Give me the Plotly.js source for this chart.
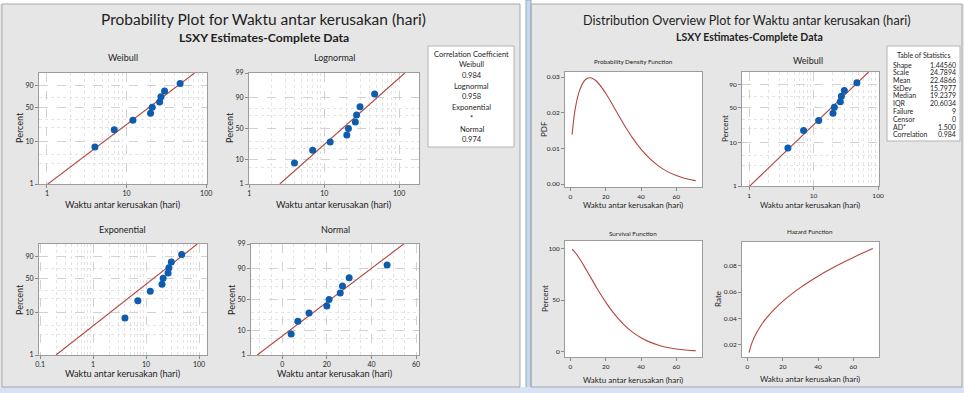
<!DOCTYPE html>
<html>
<head>
<meta charset="utf-8">
<script src="https://cdn.plot.ly/plotly-3.0.1.min.js"></script>
<style>
  html, body { margin: 0; padding: 0; background: #ffffff; }
  #chart { width: 964px; height: 393px; }
</style>
</head>
<body>
<div id="chart"></div>
<script>
// ---- data -------------------------------------------------------------
// Failure times (days) and their median-rank plotting positions (%)
const failureTimes = [4, 7, 12, 20, 21, 26, 27, 30, 47];
const plotPercent = [7.45, 18.09, 28.72, 39.36, 50, 60.64, 71.28, 81.91, 92.55];

// LSXY fitted lines, each given by two end points (time, percent)
const weibullFitX = [1, 71.3];
const weibullFitP = [0.963, 99];
const lognormalFitX = [2.55, 119];
const lognormalFitP = [1, 99];
const exponentialFitX = [0.2, 92.5];
const exponentialFitP = [1, 99];
const normalFitX = [-11.2, 54.4];
const normalFitP = [1, 99];

// Correlation coefficients per distribution
const corrNames = ['Weibull', 'Lognormal', 'Exponential', 'Normal'];
const corrValues = ['0.984', '0.958', '*', '0.974'];

// Weibull table of statistics
const statNames = ['Shape', 'Scale', 'Mean', 'StDev', 'Median', 'IQR', 'Failure', 'Censor', 'AD*', 'Correlation'];
const statValues = ['1.44560', '24.7894', '22.4866', '15.7977', '19.2379', '20.6034', '9', '0', '1.500', '0.984'];

// Distribution overview curves (Weibull fit)
const curveX = [1, 2, 3, 5, 8, 10, 12, 15, 20, 25, 30, 35, 40, 45, 50, 55, 60, 65, 70, 71];
const pdfValues = [0.01382, 0.01850, 0.02171, 0.02589, 0.02899, 0.02973, 0.02973, 0.02874, 0.02546, 0.02127,
                   0.01700, 0.01311, 0.00980, 0.00713, 0.00506, 0.00351, 0.00239, 0.00159, 0.00105, 0.00096];
const survivalPercent = [99.04, 97.41, 95.39, 90.59, 82.28, 76.40, 70.44, 61.65, 48.04, 36.34,
                         26.78, 19.28, 13.57, 9.37, 6.35, 4.22, 2.76, 1.78, 1.13, 1.03];
const hazardRate = [0.01395, 0.01899, 0.02276, 0.02857, 0.03523, 0.03891, 0.04221, 0.04662, 0.05300, 0.05854,
                    0.06349, 0.06800, 0.07218, 0.07606, 0.07972, 0.08318, 0.08647, 0.08961, 0.09261, 0.09320];

// Axis tick labels
const weibullTickPct = [1, 10, 50, 90];
const normalTickPct = [1, 10, 50, 90, 99];
const weibullMinorPct = [3, 5, 20, 30, 70];
const normalMinorPct = [5, 20, 30, 70, 80];
const decadeTicks = [1, 10, 100];
const expDecadeTicks = [0.1, 1, 10, 100];
const decadeMinor = [2, 3, 4, 5, 6, 7, 8, 9, 20, 30, 40, 50, 60, 70, 80, 90];
const expDecadeMinor = [0.2, 0.3, 0.4, 0.5, 0.6, 0.7, 0.8, 0.9, 2, 3, 4, 5, 6, 7, 8, 9, 20, 30, 40, 50, 60, 70, 80, 90];

// ---- probability scales ------------------------------------------------
const weibullScale = p => Math.log(-Math.log(1 - p / 100));
function probit(p) {
  const a = [-3.969683028665376e+01, 2.209460984245205e+02, -2.759285104469687e+02, 1.383577518672690e+02, -3.066479806614716e+01, 2.506628277459239e+00];
  const b = [-5.447609879822406e+01, 1.615858368580409e+02, -1.556989798598866e+02, 6.680131188771972e+01, -1.328068155288572e+01];
  const c = [-7.784894002430293e-03, -3.223964580411365e-01, -2.400758277161838e+00, -2.549732539343734e+00, 4.374664141464968e+00, 2.938163982698783e+00];
  const d = [7.784695709041462e-03, 3.224671290700398e-01, 2.445134137142996e+00, 3.754408661907416e+00];
  const pl = 0.02425;
  let q, r;
  if (p < pl) {
    q = Math.sqrt(-2 * Math.log(p));
    return (((((c[0]*q+c[1])*q+c[2])*q+c[3])*q+c[4])*q+c[5]) / ((((d[0]*q+d[1])*q+d[2])*q+d[3])*q+1);
  }
  if (p > 1 - pl) {
    q = Math.sqrt(-2 * Math.log(1 - p));
    return -(((((c[0]*q+c[1])*q+c[2])*q+c[3])*q+c[4])*q+c[5]) / ((((d[0]*q+d[1])*q+d[2])*q+d[3])*q+1);
  }
  q = p - 0.5; r = q * q;
  return (((((a[0]*r+a[1])*r+a[2])*r+a[3])*r+a[4])*r+a[5])*q / (((((b[0]*r+b[1])*r+b[2])*r+b[3])*r+b[4])*r+1);
}
const normalScale = p => probit(p / 100);

// ---- geometry helpers --------------------------------------------------
const PW = 964, PH = 393;
const fx = px => px / PW;
const fy = py => 1 - py / PH;
const FONT = 'Lato, "DejaVu Sans", sans-serif';
const INK = '#1e1e1e';
const FIT = '#b4453f';
const DOT = '#0d5cb0';

// plot boxes: [left, top, right, bottom] in pixels
const boxes = {
  1: [39, 73, 207, 184],   // Weibull
  2: [249, 73, 419, 184],  // Lognormal
  3: [39, 244, 207, 355],  // Exponential
  4: [251, 244, 419, 355], // Normal
  5: [565, 72, 702, 187],  // PDF
  6: [742, 72, 879, 186],  // Weibull (overview)
  7: [565, 241, 702, 357], // Survival
  8: [742, 242, 879, 357]  // Hazard
};

function baseAxis(id, isX, tickSize) {
  const b = boxes[id];
  return {
    domain: isX ? [fx(b[0]), fx(b[2])] : [fy(b[3]), fy(b[1])],
    anchor: (isX ? 'y' : 'x') + (id === 1 ? '' : id),
    showline: true, mirror: true, linecolor: '#9c9c9c', linewidth: 1,
    ticks: 'outside', ticklen: 3, tickcolor: '#8a8a8a', tickwidth: 1,
    tickfont: { family: FONT, size: tickSize, color: INK },
    zeroline: false, showgrid: false, fixedrange: true, automargin: false
  };
}
const majorGrid = { showgrid: true, gridcolor: '#d2d2d2', griddash: 'dash', gridwidth: 1 };
function minorGrid(vals) {
  return { tickmode: 'array', tickvals: vals, showgrid: true, gridcolor: '#e4e4e4', griddash: 'dot', gridwidth: 1, ticks: '' };
}

function logX(id, range, ticks, minor, size) {
  return Object.assign(baseAxis(id, true, size), majorGrid, {
    type: 'log', range: range, tickmode: 'array', tickvals: ticks, ticktext: ticks.map(String),
    minor: minorGrid(minor)
  });
}
function probY(id, scale, ticks, minor, size) {
  return Object.assign(baseAxis(id, false, size), majorGrid, {
    range: [scale(1), scale(99)], tickmode: 'array',
    tickvals: ticks.map(scale), ticktext: ticks.map(String),
    minor: minorGrid(minor.map(scale))
  });
}

// ---- traces -------------------------------------------------------------
function fitLine(id, xs, ys) {
  const s = id === 1 ? '' : String(id);
  return { type: 'scatter', mode: 'lines', x: xs, y: ys, xaxis: 'x' + s, yaxis: 'y' + s,
           line: { color: FIT, width: 1.1 }, hoverinfo: 'skip' };
}
function points(id, xs, ys) {
  const s = id === 1 ? '' : String(id);
  return { type: 'scatter', mode: 'markers', x: xs, y: ys, xaxis: 'x' + s, yaxis: 'y' + s,
           marker: { color: DOT, size: 7 }, cliponaxis: true };
}
function curve(id, xs, ys) {
  const s = String(id);
  return { type: 'scatter', mode: 'lines', x: xs, y: ys, xaxis: 'x' + s, yaxis: 'y' + s,
           line: { color: FIT, width: 1.1, shape: 'spline', smoothing: 0.8 } };
}

const traces = [
  fitLine(1, weibullFitX, weibullFitP.map(weibullScale)),
  points(1, failureTimes, plotPercent.map(weibullScale)),
  fitLine(2, lognormalFitX, lognormalFitP.map(normalScale)),
  points(2, failureTimes, plotPercent.map(normalScale)),
  fitLine(3, exponentialFitX, exponentialFitP.map(weibullScale)),
  points(3, failureTimes, plotPercent.map(weibullScale)),
  fitLine(4, normalFitX, normalFitP.map(normalScale)),
  points(4, failureTimes, plotPercent.map(normalScale)),
  curve(5, curveX, pdfValues),
  fitLine(6, weibullFitX, weibullFitP.map(weibullScale)),
  points(6, failureTimes, plotPercent.map(weibullScale)),
  curve(7, curveX, survivalPercent),
  curve(8, curveX, hazardRate)
];

// ---- annotations -------------------------------------------------------
function txt(x, y, text, size, extra) {
  return Object.assign({
    xref: 'paper', yref: 'paper', x: fx(x), y: fy(y), text: text, showarrow: false,
    font: { family: FONT, size: size, color: INK }, xanchor: 'center', yanchor: 'middle'
  }, extra || {});
}
const xTitle = 'Waktu antar kerusakan (hari)';
const ann = [
  txt(263, 19, 'Probability Plot for Waktu antar kerusakan (hari)', 15.5),
  txt(264, 37, '<b>LSXY Estimates-Complete Data</b>', 12.2),
  txt(747, 21, 'Distribution Overview Plot for Waktu antar kerusakan (hari)', 12.6),
  txt(749, 37, '<b>LSXY Estimates-Complete Data</b>', 10.5),

  txt(123, 58, 'Weibull', 9),
  txt(334, 58, 'Lognormal', 9),
  txt(123, 229, 'Exponential', 9),
  txt(335, 229, 'Normal', 9),
  txt(633, 61, 'Probability Density Function', 6.3),
  txt(808, 60, 'Weibull', 9),
  txt(633, 233, 'Survival Function', 6.3),
  txt(810, 232, 'Hazard Function', 6.3),

  txt(123, 204, xTitle, 9.2),
  txt(334, 204, xTitle, 9.2),
  txt(123, 373, xTitle, 9.2),
  txt(335, 373, xTitle, 9.2),
  txt(633, 205, xTitle, 8),
  txt(810, 205, xTitle, 8),
  txt(633, 380, xTitle, 8),
  txt(810, 379, xTitle, 8),

  txt(19, 128, 'Percent', 9, { textangle: -90 }),
  txt(229, 128, 'Percent', 9, { textangle: -90 }),
  txt(19, 300, 'Percent', 9, { textangle: -90 }),
  txt(231, 300, 'Percent', 9, { textangle: -90 }),
  txt(544, 129, 'PDF', 8, { textangle: -90 }),
  txt(725, 129, 'Percent', 8, { textangle: -90 }),
  txt(545, 299, 'Percent', 8, { textangle: -90 }),
  txt(718, 299, 'Rate', 8, { textangle: -90 })
];

// correlation coefficient box
ann.push(txt(471.5, 54, 'Correlation Coefficient', 7.5));
corrNames.forEach((n, i) => {
  ann.push(txt(471.5, 64.7 + i * 21.5, n, 7.5));
  ann.push(txt(471.5, 75.4 + i * 21.5, corrValues[i], 7.5));
});

// table of statistics
ann.push(txt(923.5, 55, 'Table of Statistics', 7));
statNames.forEach((n, i) => {
  ann.push(txt(891, 64.5 + i * 7.75, n, 7, { xanchor: 'left' }));
  ann.push(txt(958, 64.5 + i * 7.75, statValues[i], 7, { xanchor: 'right' }));
});

// ---- panel decoration ---------------------------------------------------
function rect(x0, y0, x1, y1, fill, line, layer) {
  return { type: 'rect', xref: 'paper', yref: 'paper',
           x0: fx(x0), x1: fx(x1), y0: fy(y1), y1: fy(y0),
           fillcolor: fill, line: { color: line || 'rgba(0,0,0,0)', width: line ? 1 : 0 },
           layer: layer || 'below' };
}
const shapes = [
  rect(0, 0, 964, 4, '#ffffff'),
  rect(520, 0, 531, 393, '#ffffff'),
  rect(526, 0, 531, 393, '#c9d8ec', '#8fa9cc'),
  rect(0, 387, 964, 393, '#d7e3f4'),
  rect(2, 4, 520, 387, 'rgba(0,0,0,0)', '#a7a7a7'),
  rect(531, 4, 962, 387, 'rgba(0,0,0,0)', '#a7a7a7'),
  rect(428, 46, 514, 147, '#ffffff', '#b4b4b4'),
  rect(887, 46, 960, 141, '#ffffff', '#b4b4b4')
];

// ---- layout -------------------------------------------------------------
const layout = {
  width: PW, height: PH,
  margin: { l: 0, r: 0, t: 0, b: 0, pad: 0 },
  paper_bgcolor: '#e6e6e6', plot_bgcolor: '#ffffff',
  showlegend: false, hovermode: false,
  font: { family: FONT, color: INK },
  annotations: ann, shapes: shapes,

  xaxis: logX(1, [-0.1, 2.01], decadeTicks, decadeMinor, 7),
  yaxis: probY(1, weibullScale, weibullTickPct, weibullMinorPct, 7),

  xaxis2: logX(2, [-0.005, 2.265], decadeTicks, decadeMinor, 7),
  yaxis2: probY(2, normalScale, normalTickPct, normalMinorPct, 7),

  xaxis3: logX(3, [-1.02, 2.15], expDecadeTicks, expDecadeMinor, 7),
  yaxis3: probY(3, weibullScale, weibullTickPct, weibullMinorPct, 7),

  xaxis4: Object.assign(baseAxis(4, true, 7), majorGrid, {
    range: [-14, 61.3], tickvals: [0, 20, 40, 60],
    minor: { tickmode: 'array', tickvals: [-10, -5, 5, 10, 15, 25, 30, 35, 45, 50, 55], showgrid: true, gridcolor: '#e4e4e4', griddash: 'dot', ticks: '' }
  }),
  yaxis4: probY(4, normalScale, normalTickPct, normalMinorPct, 7),

  xaxis5: Object.assign(baseAxis(5, true, 6.5), { range: [-3, 74.5], tickvals: [0, 20, 40, 60] }),
  yaxis5: Object.assign(baseAxis(5, false, 6.5), { range: [-0.0008, 0.0314], tickvals: [0, 0.01, 0.02, 0.03], tickformat: '.2f' }),

  xaxis6: logX(6, [-0.11, 2.015], decadeTicks, decadeMinor, 6.5),
  yaxis6: probY(6, weibullScale, weibullTickPct, weibullMinorPct, 6.5),

  xaxis7: Object.assign(baseAxis(7, true, 6.5), { range: [-3, 74.5], tickvals: [0, 20, 40, 60] }),
  yaxis7: Object.assign(baseAxis(7, false, 6.5), { range: [-5, 107], tickvals: [0, 50, 100] }),

  xaxis8: Object.assign(baseAxis(8, true, 6.5), { range: [-3, 74.5], tickvals: [0, 20, 40, 60] }),
  yaxis8: Object.assign(baseAxis(8, false, 6.5), { range: [0.0107, 0.0982], tickvals: [0.02, 0.04, 0.06, 0.08], tickformat: '.2f' })
};

Plotly.newPlot('chart', traces, layout, { staticPlot: true, displayModeBar: false });
</script>
</body>
</html>
